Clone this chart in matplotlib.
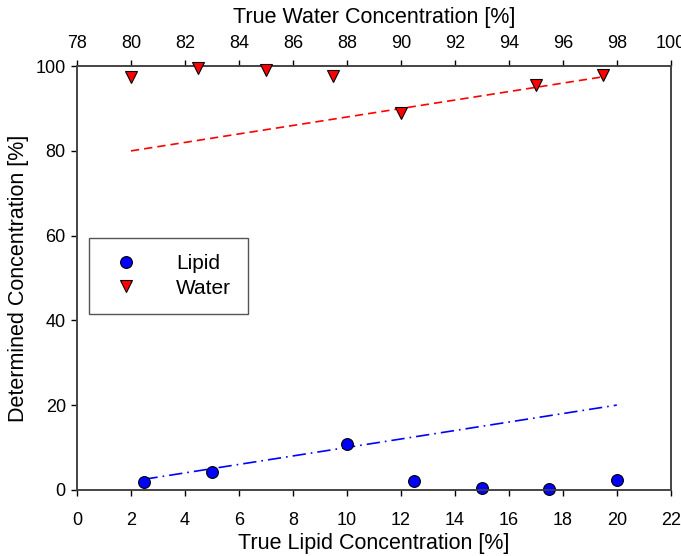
import numpy as np
import matplotlib.pyplot as plt

plt.rcParams["font.family"] = ["Liberation Sans", "DejaVu Sans"]

lipid_true = [2.5, 5, 10, 12.5, 15, 17.5, 20]
lipid_det = [1.8, 4.3, 10.9, 2.0, 0.5, 0.3, 2.3]

water_true = [80, 82.5, 85, 87.5, 90, 95, 97.5]
water_det = [97.5, 99.5, 99.2, 97.7, 89.0, 95.5, 97.8]

# ideal (y = x) reference lines
lipid_line_x = [2.5, 20]
water_line_x = [80, 97.5]

fig = plt.figure(figsize=(6.81, 5.56), dpi=100)
ax = fig.add_axes([0.113, 0.119, 0.872, 0.762])

ax.plot(lipid_line_x, lipid_line_x, color="blue", linestyle=(0, (8, 3, 1, 3)), linewidth=1.2)
lip, = ax.plot(lipid_true, lipid_det, "o", color="blue", markeredgecolor="black",
               markeredgewidth=0.8, markersize=8.5, label="Lipid", clip_on=False, zorder=5)

ax.set_xlim(0, 22)
ax.set_ylim(0, 100)
ax.set_xticks(np.arange(0, 23, 2))
ax.set_yticks(np.arange(0, 101, 20))
ax.set_xlabel("True Lipid Concentration [%]", fontsize=15.5, labelpad=3)
ax.set_ylabel("Determined Concentration [%]", fontsize=15.5, labelpad=5)
ax.tick_params(labelsize=13, direction="out", length=4, width=1)
ax.tick_params(axis="x", pad=12)
ax.tick_params(axis="y", pad=4)

ax2 = ax.twiny()
ax2.plot(water_line_x, water_line_x, color="red", linestyle=(0, (5, 3)), linewidth=1.2)
wat, = ax2.plot(water_true, water_det, "v", color="red", markeredgecolor="black",
                markeredgewidth=0.8, markersize=8.5, label="Water", clip_on=False, zorder=5)
ax2.set_xlim(78, 100)
ax2.set_xticks(np.arange(78, 101, 2))
ax2.set_xlabel("True Water Concentration [%]", fontsize=15.5, labelpad=9)
ax2.tick_params(labelsize=13, direction="out", length=4, width=1, pad=6)

for a in (ax, ax2):
    for s in a.spines.values():
        s.set_color("#444444")
        s.set_linewidth(1.2)

leg = ax.legend(handles=[lip, wat], loc="upper left", bbox_to_anchor=(0.02, 0.595),
                fontsize=15, fancybox=False, edgecolor="#555555", framealpha=1,
                handletextpad=1.4, borderpad=0.8, borderaxespad=0, labelspacing=0.25,
                handlelength=2.0)
leg.get_frame().set_linewidth(1.0)

fig.savefig("out.png", dpi=100)
